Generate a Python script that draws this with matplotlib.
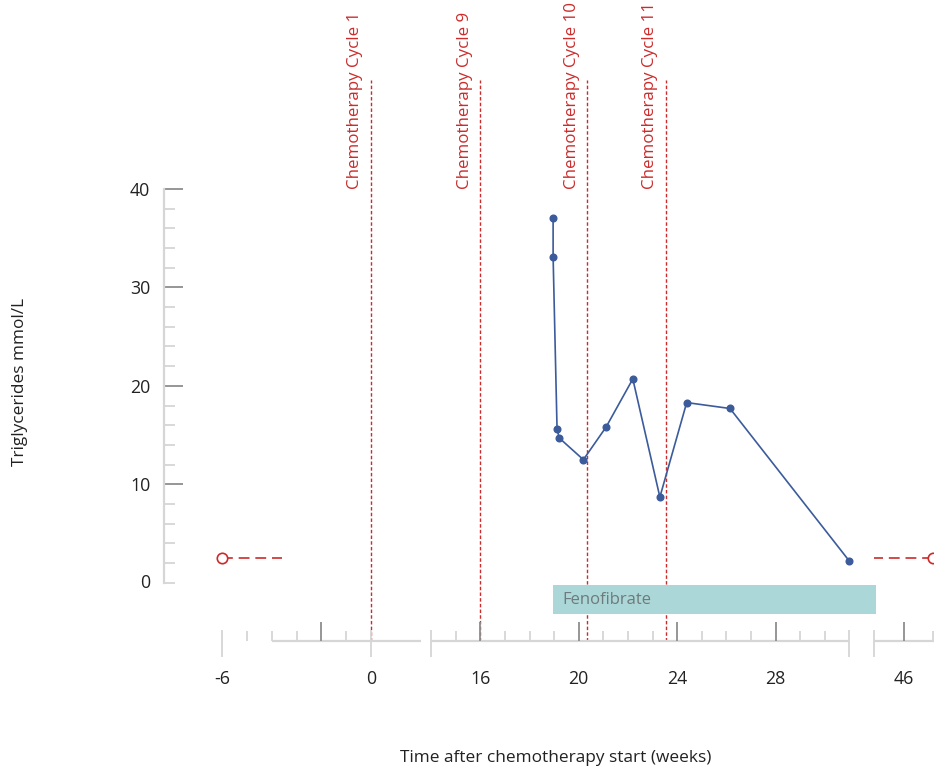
import numpy as np
import matplotlib
matplotlib.use("Agg")
import matplotlib.pyplot as plt

plt.rcParams['font.family'] = ['Open Sans', 'DejaVu Sans']

# ---------------- data ----------------
weeks = [18.96, 18.96, 19.12, 19.21, 20.19, 21.11, 22.20, 23.30, 24.39, 26.15, 31.02]
trig = [37.1, 33.1, 15.6, 14.7, 12.5, 15.8, 20.7, 8.7, 18.3, 17.7, 2.2]

outside_weeks = [-6, 47]          # values outside the displayed window (open circles)
outside_vals = [2.5, 2.5]
outside_dash_ends = [-3.6, 45]    # end of the dashed leader of each open circle

cycle_weeks = [0, 16, 20.35, 23.54]
cycle_labels = ["Chemotherapy Cycle 1", "Chemotherapy Cycle 9",
                "Chemotherapy Cycle 10", "Chemotherapy Cycle 11"]

feno_start, feno_end = 18.96, 45.05
feno_label = "Fenofibrate"

xtick_pos = [-6, 0, 16, 20, 24, 28, 46]
xtick_lab = ["-6", "0", "16", "20", "24", "28", "46"]

# broken axis: segments drawn (weeks)
seg_lines = [(-4, 2), (14, 31), (45, 48)]
major_ticks = [-2, 16, 20, 24, 28, 46]
minor_ticks = [-5, -4, -3, -1, 15, 17, 18, 19, 21, 22, 23, 25, 26, 27, 29, 30, 47]
break_ticks = [-6, 0, 14, 31, 45]

# ---------------- broken-scale mapping (weeks -> display units) ----------------
knot_w = np.array([-40, -6, 2, 14, 31, 45, 46, 47, 80], dtype=float)
knot_u = np.array([371 - 40 * 24.75, 222.5, 420.5, 431.1, 849.3, 874.3, 903.5, 932.7,
                   932.7 + 33 * 29.2])


def fwd(w):
    return np.interp(w, knot_w, knot_u)


def inv(u):
    return np.interp(u, knot_u, knot_w)


# ---------------- figure ----------------
W, H = 934, 774
fig = plt.figure(figsize=(W / 100, H / 100), dpi=100)
ax_l, ax_r, ax_t, ax_b = 164, 934, 80, 641
ax = fig.add_axes([ax_l / W, 1 - ax_b / H, (ax_r - ax_l) / W, (ax_b - ax_t) / H])

ax.set_xscale('function', functions=(fwd, inv))
ax.set_xlim(inv(ax_l), inv(ax_r))
ppu = (582.7 - 189.0) / 40.0
ax.set_ylim(-(ax_b - 582.7) / ppu, (582.7 - ax_t) / ppu)

red = "#cc2b2b"
blue = "#3b5b9b"
light = "#d6d6d6"
dark = "#8e8e8e"
txt = "#222222"
fs = 12.8

# cycle lines and labels
for cw, cl in zip(cycle_weeks, cycle_labels):
    ax.axvline(cw, color=red, lw=1.0, ls=(0, (2.5, 1.6)), zorder=1)
    ax.annotate(cl, xy=(cw, 40), xytext=(-5.5, 0), textcoords='offset points',
                rotation=90, ha='right', va='bottom', color=red, fontsize=12.2,
                annotation_clip=False)

# fenofibrate bar
yb_top = -(585 - 582.7) / ppu
yb_bot = -(614.3 - 582.7) / ppu
ax.barh((yb_top + yb_bot) / 2, feno_end - feno_start, left=feno_start,
        height=yb_top - yb_bot, color="#acd7d8", zorder=2)
ax.annotate(feno_label, xy=(feno_start, (yb_top + yb_bot) / 2), xytext=(7, 0),
            textcoords='offset points', ha='left', va='center', color="#6e7a7b",
            fontsize=12, zorder=3)

# data series
ax.plot(weeks, trig, color=blue, lw=1.2, marker='o', ms=4.8, zorder=4)

# out-of-window values
for ow, ov, oe in zip(outside_weeks, outside_vals, outside_dash_ends):
    ax.plot([ow, oe], [ov, ov], color=red, lw=1.2, dashes=(6.5, 3.5), zorder=3,
            clip_on=False)
    ax.plot([ow], [ov], marker='o', ms=7.5, mfc='white', mec=red, mew=1.2,
            zorder=4, clip_on=False)

# ---------------- axes styling ----------------
for s in ['top', 'right', 'bottom']:
    ax.spines[s].set_visible(False)
ax.spines['left'].set_color(light)
ax.spines['left'].set_linewidth(1.6)
ax.spines['left'].set_bounds(0, 40)

ax.set_yticks([10, 20, 30, 40])
ax.set_yticks([0] + [v for v in range(2, 40, 2) if v % 10 != 0], minor=True)
ax.tick_params(axis='y', which='major', direction='in', length=13.5, width=1.3,
               color=dark, labelsize=fs, labelcolor=txt, pad=10)
ax.tick_params(axis='y', which='minor', direction='in', length=8, width=1.3,
               color=light)
ax.set_yticklabels(["10", "20", "30", "40"])
# zero label (its tick is minor-styled)
ax.annotate("0", xy=(0, 0), xycoords=('axes fraction', 'data'), xytext=(-10, 0),
            textcoords='offset points', ha='right', va='center', fontsize=fs,
            color=txt, annotation_clip=False)

# x axis (broken) drawn by hand
xt = ax.get_xaxis_transform()
hpx = ax_b - ax_t
for a, b in seg_lines:
    ax.plot([a, b], [0, 0], transform=xt, color=light, lw=1.6, clip_on=False,
            solid_capstyle='butt', zorder=1)
ax.vlines(major_ticks, 0, 19 / hpx, transform=xt, color=dark, lw=1.3, clip_on=False)
ax.vlines(minor_ticks, 0, 10 / hpx, transform=xt, color=light, lw=1.3, clip_on=False)
ax.vlines(break_ticks, -16 / hpx, 11 / hpx, transform=xt, color=light, lw=1.3,
          clip_on=False)

ax.set_xticks(xtick_pos)
ax.set_xticklabels(xtick_lab)
ax.xaxis.set_minor_locator(matplotlib.ticker.NullLocator())
ax.tick_params(axis='x', which='major', length=0, pad=21, labelsize=fs,
               labelcolor=txt)

fig.text(556 / W, 1 - 758 / H, "Time after chemotherapy start (weeks)",
         ha='center', va='center', fontsize=12.4, color=txt)
fig.text(20 / W, 1 - 382 / H, "Triglycerides mmol/L", rotation=90,
         ha='center', va='center', fontsize=12.4, color=txt)

fig.savefig("out.png", dpi=100)
